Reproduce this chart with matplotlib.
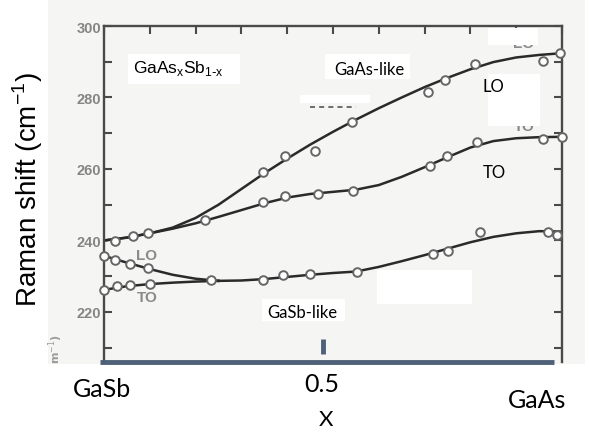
import matplotlib
matplotlib.use("Agg")
import matplotlib.pyplot as plt
from matplotlib.patches import Rectangle
from matplotlib.ticker import MultipleLocator
import numpy as np

# measured phonon frequencies (cm-1) vs As fraction x
lo_as_x = [0.024, 0.063, 0.096, 0.347, 0.395, 0.461, 0.541, 0.707, 0.745, 0.810, 0.958, 0.996]
lo_as_y = [239.9, 241.3, 242.1, 259.2, 263.6, 265.0, 273.1, 281.5, 284.9, 289.4, 290.2, 292.4]
to_as_x = [0.220, 0.347, 0.395, 0.467, 0.544, 0.712, 0.749, 0.814, 0.958, 1.000]
to_as_y = [245.7, 250.8, 252.4, 253.0, 253.8, 260.8, 263.6, 267.6, 268.4, 269.0]
lo_sb_x = [0.000, 0.024, 0.057, 0.096]
lo_sb_y = [235.7, 234.5, 233.4, 232.3]
to_sb_x = [0.000, 0.028, 0.057, 0.100]
to_sb_y = [226.2, 227.3, 227.6, 227.8]
sb_like_x = [0.234, 0.347, 0.390, 0.450, 0.552, 0.718, 0.751, 0.821, 0.969, 0.989]
sb_like_y = [229.0, 229.0, 230.4, 230.6, 231.2, 236.2, 237.1, 242.4, 242.4, 241.5]

# fitted guide curves traced along x
curve_x = [0.0, 0.05, 0.1, 0.15, 0.2, 0.25, 0.3, 0.35, 0.4, 0.45, 0.5,
           0.55, 0.6, 0.65, 0.7, 0.75, 0.8, 0.85, 0.9, 0.95, 1.0]
lo_as_curve = [240.0, 240.8, 242.0, 243.6, 246.3, 250.0, 254.4, 258.8, 262.9, 266.8, 270.4,
               273.8, 277.0, 280.0, 282.9, 285.5, 287.9, 289.9, 291.2, 291.9, 292.4]
to_as_curve = [240.0, 240.8, 242.0, 243.3, 244.8, 246.6, 248.5, 250.4, 252.0, 253.0, 253.6,
               254.2, 255.5, 257.8, 260.5, 263.3, 266.0, 267.8, 268.6, 268.9, 269.0]
sb_low_x = [0.0, 0.05, 0.1, 0.15, 0.2, 0.25]
lo_sb_curve = [235.7, 233.8, 232.0, 230.4, 229.3, 228.7]
to_sb_curve = [226.2, 227.2, 227.8, 228.2, 228.5, 228.7]
sb_like_cx = [0.25, 0.3, 0.35, 0.4, 0.45, 0.5, 0.55, 0.6, 0.65, 0.7, 0.75, 0.8, 0.85, 0.9, 0.95, 1.0]
sb_like_curve = [228.7, 228.8, 229.2, 229.8, 230.4, 230.9, 231.3, 232.6, 234.2, 235.9, 237.7,
                 239.5, 241.0, 242.0, 242.6, 242.5]

W, H = 589, 435
fig = plt.figure(figsize=(W / 100, H / 100), dpi=100)
fig.patch.set_facecolor("white")

# pixel-space helper axes: one under the plot, one over it
under = fig.add_axes([0, 0, 1, 1], zorder=0)
under.set_xlim(0, W); under.set_ylim(H, 0); under.axis("off")
under.add_patch(Rectangle((48, 0), 537, 365, color="#f5f6f3", lw=0))

ax = fig.add_axes([104 / W, 1 - 363 / H, 458 / W, 336 / H], zorder=1)
ax.set_facecolor("none")
ax.set_xlim(0, 1)
ax.set_ylim(206, 300)

line_kw = dict(color="#2a2a2a", lw=1.8, zorder=2)
ax.plot(curve_x, lo_as_curve, **line_kw)
ax.plot(curve_x, to_as_curve, **line_kw)
ax.plot(sb_low_x, lo_sb_curve, **line_kw)
ax.plot(sb_low_x, to_sb_curve, **line_kw)
ax.plot(sb_like_cx, sb_like_curve, **line_kw)

pt_kw = dict(ls="none", marker="o", ms=6.2, mfc="white", mec="#666666", mew=1.4, zorder=3, clip_on=False)
for xs, ys in [(lo_as_x, lo_as_y), (to_as_x, to_as_y), (lo_sb_x, lo_sb_y),
               (to_sb_x, to_sb_y), (sb_like_x, sb_like_y)]:
    ax.plot(xs, ys, **pt_kw)

for side in ["left", "top", "right"]:
    ax.spines[side].set_color("#4a4a4a")
    ax.spines[side].set_linewidth(1.7)
ax.spines["bottom"].set_visible(False)

ax.yaxis.set_major_locator(MultipleLocator(20))
ax.yaxis.set_minor_locator(MultipleLocator(10))
ax.xaxis.set_major_locator(MultipleLocator(0.1))
ax.tick_params(axis="y", which="both", direction="in", length=6, width=1.5, color="#4a4a4a",
               right=True, labelright=False, labelsize=10.5, labelcolor="#858585", pad=2)
ax.tick_params(axis="x", which="both", direction="in", length=6, width=1.5, color="#4a4a4a",
               top=True, bottom=False, labelbottom=False)
ax.set_yticks([220, 240, 260, 280, 300])
for lab in ax.get_yticklabels():
    lab.set_fontweight("bold")
    lab.set_family("Liberation Sans")

# original gray branch labels
gray_kw = dict(color="#8a8a8a", fontsize=11, fontweight="bold", family="Liberation Sans",
               ha="center", va="center", zorder=1)
ax.text(0.094, 235.9, "LO", **gray_kw)
ax.text(0.094, 224.1, "TO", **gray_kw)
ax.text(0.917, 295.3, "LO", **gray_kw)
ax.text(0.917, 271.9, "TO", **gray_kw)
ax.plot([0.45, 0.55], [277.3, 277.3], color="#555555", lw=1.2, ls=(0, (3, 2.5)), zorder=1)

# blue x baseline and the 0.5 mark
ax.plot([-0.009, 0.983], [206.0, 206.0], color="#4f6178", lw=3.5, clip_on=False,
        solid_capstyle="butt", zorder=4)
ax.plot([0.478, 0.478], [208.2, 212.5], color="#4f6178", lw=3.5, clip_on=False,
        solid_capstyle="butt", zorder=4)

over = fig.add_axes([0, 0, 1, 1], zorder=2)
over.set_xlim(0, W); over.set_ylim(H, 0); over.axis("off")
over.patch.set_visible(False)
for x0, y0, w, h in [(128, 55, 112, 30), (325, 55, 85, 25), (300, 96, 70, 8),
                     (488, 29, 50, 17), (488, 75, 52, 52), (377, 271, 95, 34),
                     (262, 300, 83, 22)]:
    over.add_patch(Rectangle((x0, y0), w, h, color="white", lw=0, zorder=1))

over.text(56, 349, "m$^{-1}$)", rotation=90, color="#9a9a9a", fontsize=8,
          fontweight="bold", ha="center", va="center", zorder=2)

sans = "Lato"
over.text(133, 73, "GaAs$_\\mathregular{x}$Sb$_\\mathregular{1\\text{-}x}$", fontsize=12.5,
          family="Liberation Sans", ha="left", va="baseline", zorder=2)
over.text(369, 75, "GaAs-like", fontsize=12, family=sans, ha="center", va="baseline", zorder=2)
over.text(483, 92, "LO", fontsize=12, family=sans, ha="left", va="baseline", zorder=2)
over.text(483, 178, "TO", fontsize=12, family=sans, ha="left", va="baseline", zorder=2)
over.text(267, 318, "GaSb-like", fontsize=12, family=sans, ha="left", va="baseline", zorder=2)
over.text(28, 190, "Raman shift (cm$^\\mathregular{-1}$)", rotation=90, fontsize=20,
          family="Liberation Sans", ha="center", va="center", zorder=2)
over.text(102, 397, "GaSb", fontsize=18, family=sans, ha="center", va="baseline", zorder=2)
over.text(322, 392, "0.5", fontsize=18, family=sans, ha="center", va="baseline", zorder=2)
over.text(537, 408, "GaAs", fontsize=18, family=sans, ha="center", va="baseline", zorder=2)
over.text(326, 426, "X", fontsize=16, family=sans, ha="center", va="baseline", zorder=2)

fig.savefig("out.png", dpi=100)
